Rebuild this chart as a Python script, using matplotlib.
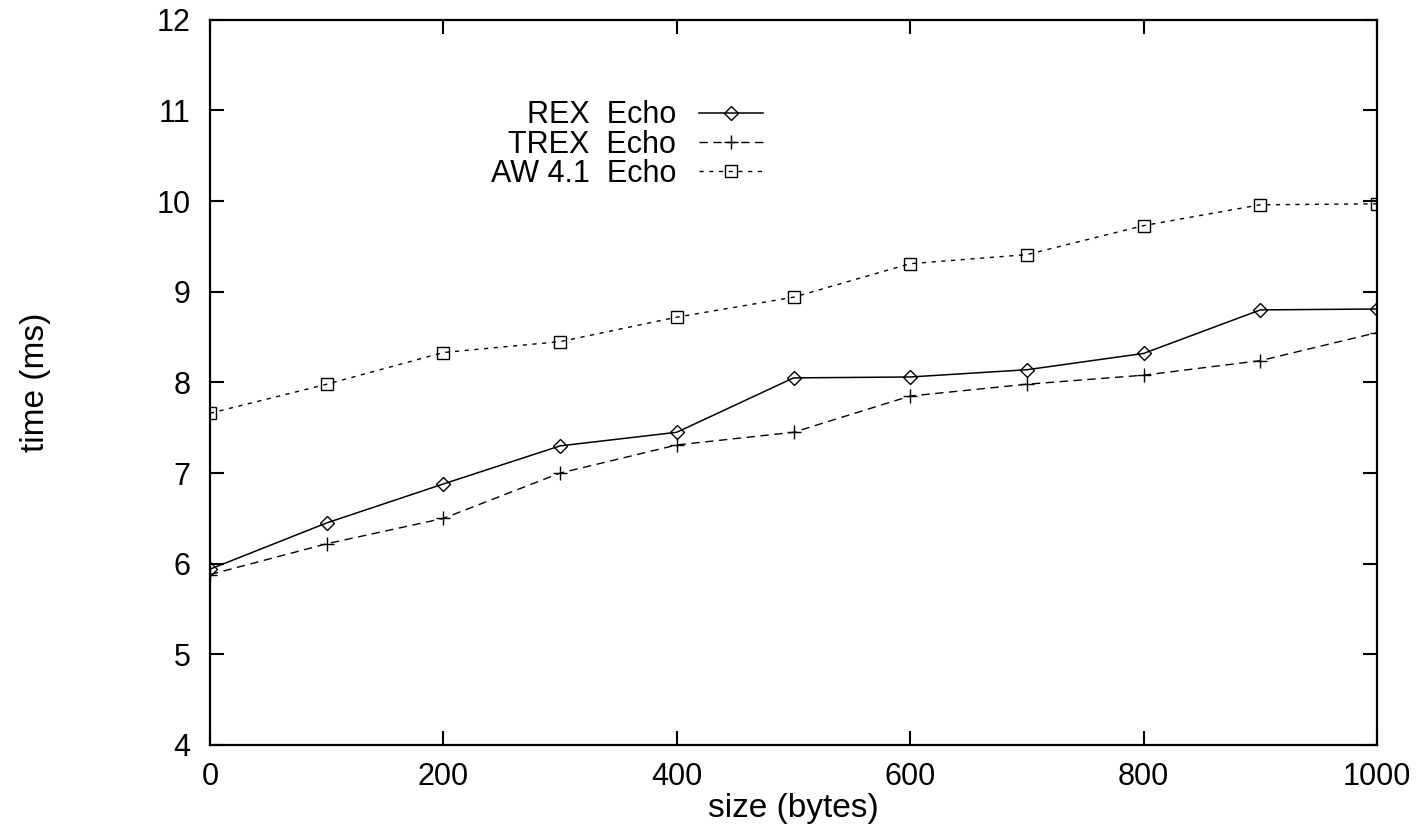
import matplotlib.pyplot as plt
import numpy as np

# message size (bytes) and round-trip times (ms)
size = [0, 100, 200, 300, 400, 500, 600, 700, 800, 900, 1000]
rex = [5.94, 6.45, 6.88, 7.30, 7.45, 8.05, 8.06, 8.14, 8.32, 8.80, 8.81]
trex = [5.88, 6.22, 6.50, 7.00, 7.31, 7.45, 7.85, 7.98, 8.08, 8.24, 8.55]
aw41 = [7.66, 7.98, 8.33, 8.45, 8.72, 8.94, 9.31, 9.41, 9.73, 9.96, 9.97]

plt.rcParams['font.family'] = ['Liberation Sans', 'DejaVu Sans']

fig = plt.figure(figsize=(14.24, 8.24), dpi=100)
ax = fig.add_axes([0.1475, 0.0959, 0.8195, 0.880])

ax.plot(size, rex, color='black', lw=1.1, ls='-', marker='D', ms=7,
        mfc='none', mec='black', mew=1.0, label='REX  Echo')
ax.plot(size, trex, color='black', lw=1.0, ls=(0, (6, 4)), marker='+', ms=10,
        mew=1.0, label='TREX  Echo')
ax.plot(size, aw41, color='black', lw=1.0, ls=(0, (3, 4)), marker='s', ms=9,
        mfc='none', mec='black', mew=1.0, label='AW 4.1  Echo')

ax.set_xlim(0, 1000)
ax.set_ylim(4, 12)
ax.set_xticks(np.arange(0, 1001, 200))
ax.set_yticks(np.arange(4, 13, 1))
ax.tick_params(direction='in', length=10, width=1.5, labelsize=22,
               top=True, right=True)
ax.tick_params(axis='x', pad=12)
ax.tick_params(axis='y', pad=14)
for s in ax.spines.values():
    s.set_linewidth(1.6)

ax.set_xlabel('size (bytes)', fontsize=24)
ax.set_ylabel('time (ms)', fontsize=24)
ax.xaxis.set_label_coords(0.5, -0.066)
ax.yaxis.set_label_coords(-0.136, 0.5)

ax.legend(loc='upper right', bbox_to_anchor=(0.487, 0.910), frameon=False,
          markerfirst=False, fontsize=22, handlelength=2.1, labelspacing=-0.02,
          handletextpad=0.75, borderpad=0)

fig.savefig('out.png', dpi=100)
